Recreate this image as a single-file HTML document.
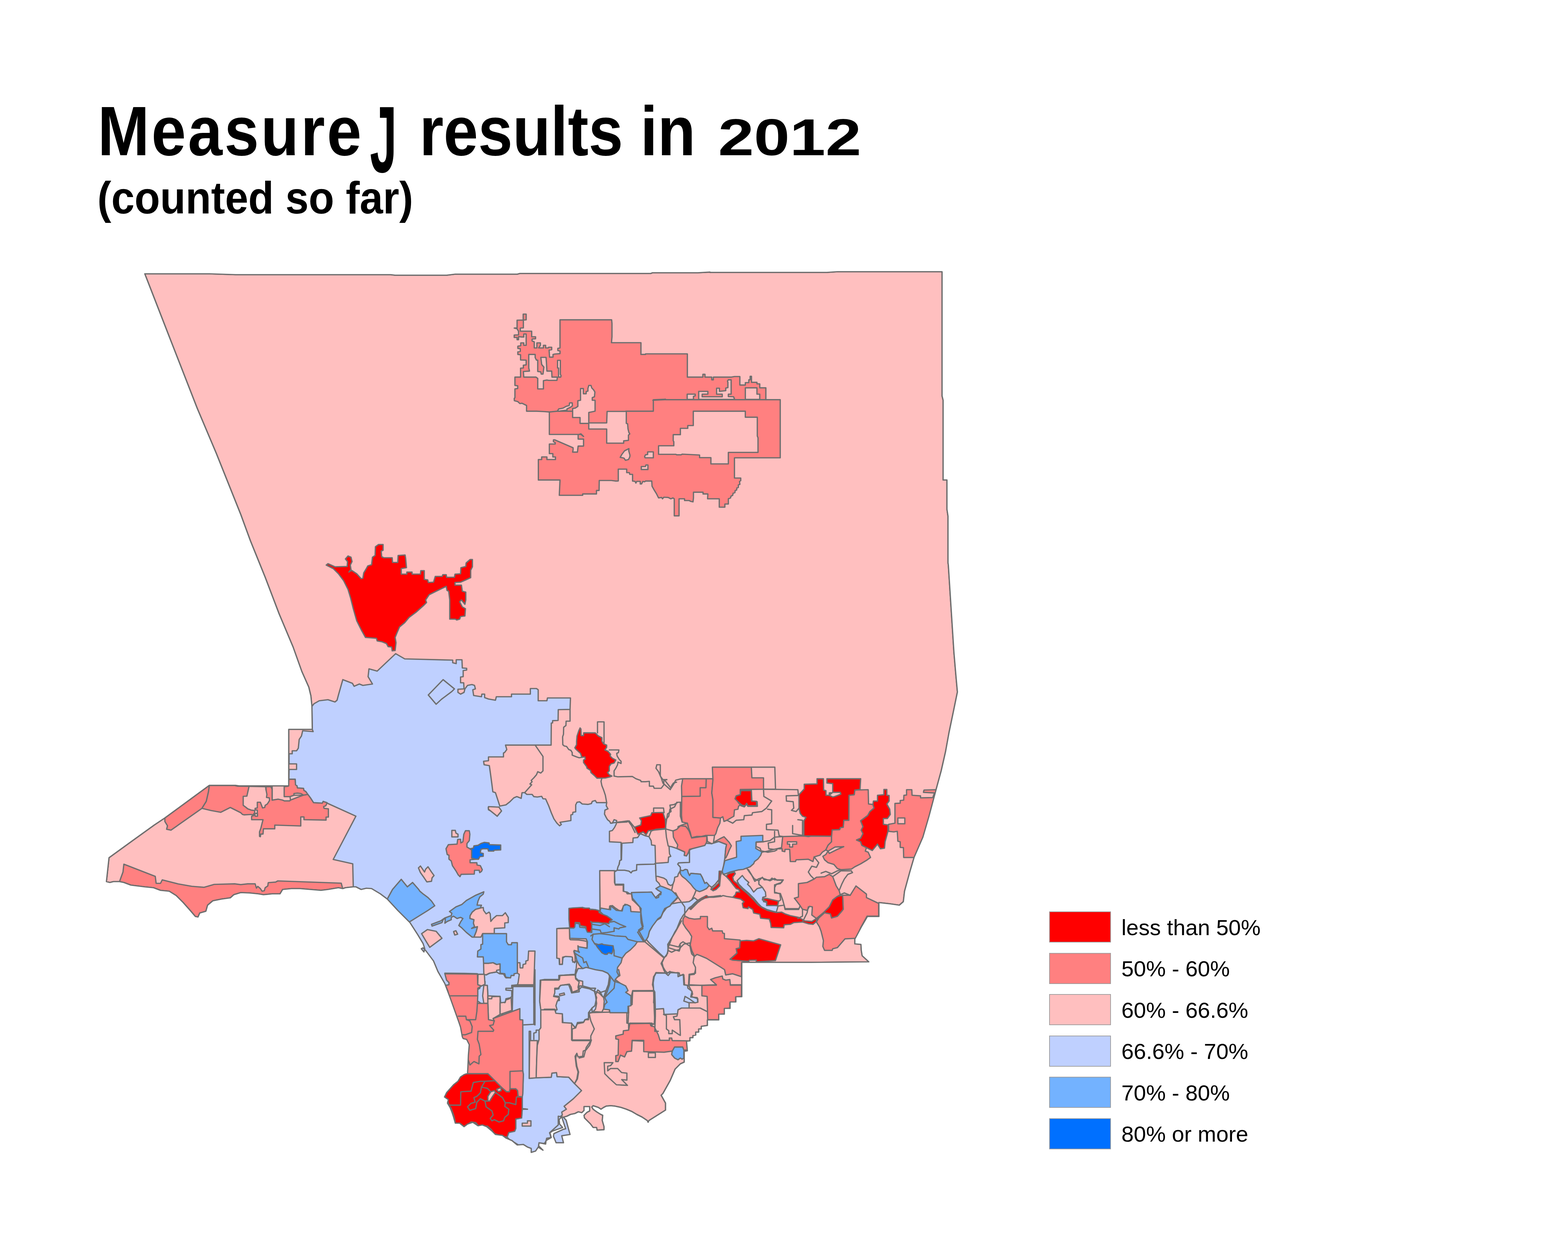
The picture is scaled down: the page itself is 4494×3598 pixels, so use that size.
<!DOCTYPE html>
<html lang="en">
<head>
<meta charset="utf-8">
<title>Measure J results in 2012</title>
<style>
html,body{margin:0;padding:0;background:#fff;}
body{width:4494px;height:3598px;position:relative;overflow:hidden;font-family:"Liberation Sans",sans-serif;color:#000;}
#map{position:absolute;left:0;top:0;width:4494px;height:3598px;}
#map polygon,#map polyline{stroke:#6e6e6e;stroke-width:3.7;stroke-linejoin:round;stroke-linecap:round;}
h1,h2{position:absolute;margin:0;white-space:nowrap;font-weight:bold;transform-origin:0 0;line-height:1;}
h1{left:280px;top:276.3px;font-size:200px;transform:scaleX(0.89);}
h1 .m{letter-spacing:6.3px;}
h1 .j{display:inline-block;transform:translateX(-29px) scale(0.78,1.352);transform-origin:60% 31.7px;margin:0 -22px 0 -20px;}
h1 .osf{display:inline-block;font-size:147.5px;transform:scaleX(1.405);transform-origin:0 100%;margin-left:17px;}
h2{left:279px;top:502px;font-size:130px;transform:scaleX(0.9214);}
.legend{position:absolute;left:3007px;top:2613px;margin:0;padding:0;list-style:none;}
.legend li{position:absolute;left:0;height:88px;white-space:nowrap;font-size:63.5px;line-height:88px;}
.legend .sw{position:absolute;left:0;top:0;width:173px;height:85px;border:2px solid #9c9c9c;}
.legend .lb{position:absolute;left:207px;top:1.5px;}
</style>
</head>
<body>
<svg id="map" viewBox="0 0 4494 3598" width="4494" height="3598">
<defs><clipPath id="cc"><polygon points="415,785 600,785 675,787.5 1120,787.5 1132.5,789 1280,789 1305,786 1482.5,786 1490,784 1865,784 1870,782 2000,782 2035,780 2035,781 2370,781 2400,779 2700,779 2700,1135 2703,1147.5 2703,1376 2714,1376 2714,1460 2717,1480 2717,1613 2718,1620 2725,1730 2734,1870 2740,1940 2744,1984 2732.5,2040 2720,2100 2710,2155 2697.5,2210 2682.5,2265 2662.5,2340 2645,2400 2620,2457.5 2607.5,2500 2592.5,2555 2589,2585 2577.5,2595 2550,2591 2519,2587.5 2519,2627.5 2486,2627.5 2470,2655 2450,2692.5 2450,2706 2467.5,2707.5 2468.5,2725 2471,2740 2490,2757.5 2325,2759 2126,2759 2126,2857.5 2109,2857.5 2109,2872.5 2092.5,2872.5 2092.5,2891 2076,2891 2076,2907.5 2060,2907.5 2060,2924 2027.5,2924 2027.5,2940 2010,2942.5 2010,2950 2002.5,2950 2002.5,2959 1994,2959 1994,2967.5 1986,2969 1986,2975 1977.5,2975 1977.5,2984 1967.5,2985 1970,3012.5 1961,3014 1961,3045 1950,3050 1935,3065 1921,3097.5 1900,3135 1895,3140 1907.5,3162.5 1907.5,3182.5 1860,3212.5 1857.5,3217.5 1855,3212.5 1840,3202.5 1825,3195 1810,3186.2 1795,3180 1780,3175 1762.5,3171.2 1750,3170 1737.5,3171.2 1730,3175 1722.5,3180 1715,3175 1700,3170 1696.2,3173.8 1700,3180 1710,3187.5 1720,3193.8 1727.5,3197.5 1726.2,3212.5 1731.2,3230 1731.2,3238.8 1711.2,3240 1710,3232.5 1700,3232.5 1692.5,3222.5 1685,3215 1675,3205 1673.8,3197.5 1682.5,3188.8 1690,3185 1690,3172.5 1673.8,3172.5 1673.8,3183.8 1667.5,3190 1657.5,3187.5 1647.5,3192.5 1635,3195 1625,3200 1615,3203 1622.5,3211.2 1633.8,3252.5 1610,3256.2 1615,3276.2 1593.8,3276.2 1586.2,3257.5 1587.5,3250 1615,3237.5 1621.2,3236.2 1612.5,3210 1610,3201.2 1602.5,3210 1603.8,3222.5 1612.5,3232.5 1583.8,3242.5 1576.2,3247.5 1580,3261.2 1565,3270 1563.8,3280 1545,3276.2 1543.8,3285 1556.2,3297.5 1542.5,3288.8 1535,3300 1522.5,3303.8 1522.5,3292.5 1512.5,3288.8 1500,3281.2 1482.5,3282.5 1467.5,3270 1450,3262.5 1440,3255 1420,3252.5 1410,3242.5 1395,3230 1382.5,3225 1370,3227.5 1355,3217.5 1340,3222.5 1330,3230 1317.5,3220 1305,3220 1300,3202.5 1295,3187.5 1290,3175 1282.5,3162.5 1285,3152.5 1274,3145 1280,3132.5 1300,3110 1312.5,3100 1320,3087.5 1330,3081 1340,3077.5 1341,3060 1342.5,3025 1345,2995 1337.5,2980 1327.5,2977.5 1325,2972.5 1320,2945 1315,2930 1290,2860 1275,2820 1255,2785 1242.5,2755 1220,2725 1212.5,2717.5 1207.5,2720 1215,2729 1217.5,2720 1212.5,2705 1197.5,2680 1175,2645 1140,2610 1110,2577.5 1090,2562.5 1065,2547.5 1050,2546.5 1035,2550 1020,2542.5 1012.5,2542.5 990,2545 982.5,2547.5 970,2545 940,2550 920,2552.5 890,2550 860,2547.5 835,2547.5 810,2550 802.5,2562.5 780,2562.5 755,2565 740,2562.5 715,2560 690,2559 670,2565 660,2574 635,2577.5 610,2582.5 595,2595 590,2612.5 572.5,2617.5 567.5,2629 560,2627.5 545,2610 525,2587.5 505,2567.5 485,2555 460,2552.5 440,2545 415,2542.5 395,2540 375,2537.5 355,2530 342.5,2527.5 325,2527.5 315,2530 305,2527.5 312.5,2459 380,2410 442.5,2365 472.5,2345 600,2251.5 675,2251.5 685,2253 827.5,2253 827.5,2091 895,2091 894,2025 891,1995 885,1970 865,1925 840,1855 800,1760 760,1655 717.5,1550 690,1475 620,1300 565,1170 485,965"/></clipPath></defs>
<g clip-path="url(#cc)">
<polygon fill="#FFBFBF" points="415,785 600,785 675,787.5 1120,787.5 1132.5,789 1280,789 1305,786 1482.5,786 1490,784 1865,784 1870,782 2000,782 2035,780 2035,781 2370,781 2400,779 2700,779 2700,1135 2703,1147.5 2703,1376 2714,1376 2714,1460 2717,1480 2717,1613 2718,1620 2725,1730 2734,1870 2740,1940 2744,1984 2732.5,2040 2720,2100 2710,2155 2697.5,2210 2682.5,2265 2662.5,2340 2645,2400 2620,2457.5 2607.5,2500 2592.5,2555 2589,2585 2577.5,2595 2550,2591 2519,2587.5 2519,2627.5 2486,2627.5 2470,2655 2450,2692.5 2450,2706 2467.5,2707.5 2468.5,2725 2471,2740 2490,2757.5 2325,2759 2126,2759 2126,2857.5 2109,2857.5 2109,2872.5 2092.5,2872.5 2092.5,2891 2076,2891 2076,2907.5 2060,2907.5 2060,2924 2027.5,2924 2027.5,2940 2010,2942.5 2010,2950 2002.5,2950 2002.5,2959 1994,2959 1994,2967.5 1986,2969 1986,2975 1977.5,2975 1977.5,2984 1967.5,2985 1970,3012.5 1961,3014 1961,3045 1950,3050 1935,3065 1921,3097.5 1900,3135 1895,3140 1907.5,3162.5 1907.5,3182.5 1860,3212.5 1857.5,3217.5 1855,3212.5 1840,3202.5 1825,3195 1810,3186.2 1795,3180 1780,3175 1762.5,3171.2 1750,3170 1737.5,3171.2 1730,3175 1722.5,3180 1715,3175 1700,3170 1696.2,3173.8 1700,3180 1710,3187.5 1720,3193.8 1727.5,3197.5 1726.2,3212.5 1731.2,3230 1731.2,3238.8 1711.2,3240 1710,3232.5 1700,3232.5 1692.5,3222.5 1685,3215 1675,3205 1673.8,3197.5 1682.5,3188.8 1690,3185 1690,3172.5 1673.8,3172.5 1673.8,3183.8 1667.5,3190 1657.5,3187.5 1647.5,3192.5 1635,3195 1625,3200 1615,3203 1622.5,3211.2 1633.8,3252.5 1610,3256.2 1615,3276.2 1593.8,3276.2 1586.2,3257.5 1587.5,3250 1615,3237.5 1621.2,3236.2 1612.5,3210 1610,3201.2 1602.5,3210 1603.8,3222.5 1612.5,3232.5 1583.8,3242.5 1576.2,3247.5 1580,3261.2 1565,3270 1563.8,3280 1545,3276.2 1543.8,3285 1556.2,3297.5 1542.5,3288.8 1535,3300 1522.5,3303.8 1522.5,3292.5 1512.5,3288.8 1500,3281.2 1482.5,3282.5 1467.5,3270 1450,3262.5 1440,3255 1420,3252.5 1410,3242.5 1395,3230 1382.5,3225 1370,3227.5 1355,3217.5 1340,3222.5 1330,3230 1317.5,3220 1305,3220 1300,3202.5 1295,3187.5 1290,3175 1282.5,3162.5 1285,3152.5 1274,3145 1280,3132.5 1300,3110 1312.5,3100 1320,3087.5 1330,3081 1340,3077.5 1341,3060 1342.5,3025 1345,2995 1337.5,2980 1327.5,2977.5 1325,2972.5 1320,2945 1315,2930 1290,2860 1275,2820 1255,2785 1242.5,2755 1220,2725 1212.5,2717.5 1207.5,2720 1215,2729 1217.5,2720 1212.5,2705 1197.5,2680 1175,2645 1140,2610 1110,2577.5 1090,2562.5 1065,2547.5 1050,2546.5 1035,2550 1020,2542.5 1012.5,2542.5 990,2545 982.5,2547.5 970,2545 940,2550 920,2552.5 890,2550 860,2547.5 835,2547.5 810,2550 802.5,2562.5 780,2562.5 755,2565 740,2562.5 715,2560 690,2559 670,2565 660,2574 635,2577.5 610,2582.5 595,2595 590,2612.5 572.5,2617.5 567.5,2629 560,2627.5 545,2610 525,2587.5 505,2567.5 485,2555 460,2552.5 440,2545 415,2542.5 395,2540 375,2537.5 355,2530 342.5,2527.5 325,2527.5 315,2530 305,2527.5 312.5,2459 380,2410 442.5,2365 472.5,2345 600,2251.5 675,2251.5 685,2253 827.5,2253 827.5,2091 895,2091 894,2025 891,1995 885,1970 865,1925 840,1855 800,1760 760,1655 717.5,1550 690,1475 620,1300 565,1170 485,965"/>
<polygon fill="#FF8080" points="1605,916.8 1753,916.8 1754,927.5 1754,965 1752.5,982.5 1837,982.5 1837,1016.2 1850,1016.2 1850,1014.5 1970,1014.5 1970,1081.2 1970,1081.2 2014.5,1081.2 2014.5,1073 2020.5,1073 2020.5,1081.2 2040,1081.2 2040,1088.8 2044.5,1088.8 2044.5,1081.2 2095,1081.2 2105,1079.5 2120.5,1079.5 2120.5,1103.8 2136.2,1103.8 2136.2,1097 2146.2,1097 2146.2,1088.8 2150,1088.8 2150,1078.8 2153.8,1078.8 2153.8,1096.2 2169.5,1096.2 2169.5,1100.5 2177.5,1100.5 2177.5,1111.8 2195,1111.8 2195,1145.8 2236.2,1145.8 2236.2,1312.5 2105,1312.5 2105,1370.5 2123,1370.5 2123,1378 2119.5,1380 2120.5,1388.8 2116.2,1390 2116.2,1397.5 2112,1398.8 2111.2,1405 2107,1406.2 2106.2,1412.5 2101.2,1413.8 2100,1420 2095,1422.5 2093.8,1427.5 2087.5,1430 2087.5,1445 2077.5,1445 2077.5,1454 2061.5,1454 2061.5,1430 2028,1430 2028.8,1416.2 2015,1416.2 2015,1411.2 1987.5,1411.2 1987.5,1427.5 1986.2,1438.8 1980,1437.5 1975,1435 1962,1435 1962,1430 1946.2,1430 1946.2,1478.8 1932.5,1478.8 1932.5,1430 1928.8,1427.5 1922.5,1430 1915,1426.2 1902.5,1425.5 1898.8,1430 1896.2,1426.2 1887.5,1427.5 1881.2,1415 1875,1405 1868.8,1393.8 1868,1379.2 1850,1379.2 1847.5,1381.2 1842.5,1380 1838.8,1387.5 1835,1387.5 1835,1380 1825,1380 1822.5,1385 1820,1380 1813,1379.2 1813,1360 1805,1360 1803.8,1355 1796.2,1355 1796.2,1345 1772,1345 1772,1378.8 1765,1379.2 1752.5,1377.5 1717.5,1377.5 1717,1406.2 1709.5,1406.2 1709.5,1416.2 1670,1416.2 1670,1420 1603,1420 1605,1376.2 1543,1376.2 1543,1317.5 1552.5,1317.5 1552.5,1310 1567.5,1310 1567.5,1317.5 1592,1317.5 1592,1310 1584.5,1310 1584.5,1300.5 1574.5,1300.5 1574.5,1273 1591.2,1273 1591.2,1268.8 1586.2,1266.2 1586.2,1261.2 1590.5,1261.2 1642.5,1283.8 1642.5,1290 1641.2,1296.2 1655,1296.2 1657,1278.8 1672.5,1278.8 1672.5,1258.8 1657,1258.8 1657,1246.2 1665,1243.8 1672.5,1251.2 1665,1245.5 1574.5,1245.5 1574.5,1181.2 1560,1180 1537.5,1178.8 1509.2,1178.8 1509.2,1162.5 1496.2,1156.2 1490,1157 1483.8,1151.2 1474.2,1148.8 1473.8,1142.5 1475.8,1140 1475.8,1115 1483.8,1113.8 1483.8,1106.2 1475.8,1105 1475.8,1081.2 1492,1081.2 1492,1055.5 1500,1055 1500,1047 1508,1046.2 1508,1032.5 1492,1032 1492,1017 1484.2,1016.2 1484.2,1008.8 1491.2,1007.5 1491.2,999.5 1484.2,998.8 1484.2,992.5 1492.5,991.2 1492.5,983 1501.2,983 1501.2,990 1508,990 1508,957.5 1501.2,957.5 1501.2,966.2 1495,966.2 1486.2,965 1486.2,973.8 1482,973.8 1482,967.5 1473.8,967.5 1473.8,960.5 1486.2,960 1486.2,950 1482,942.5 1473.8,940.5 1482,940 1482,918 1499.5,917.5 1499.5,900.5 1508,900.5 1508,917 1500,917.5 1500,940 1491.2,940.5 1491.2,949.5 1523.8,949.5 1523.8,965.5 1535,965.5 1535,971.2 1525,972 1525,977.5 1531.2,980 1531.2,997.5 1538.8,997.5 1538.8,983 1548.8,983 1548.8,990 1543.8,997.5 1557.5,997.5 1557.5,990 1563.8,990 1563.8,997.5 1571.2,997.5 1572.5,995.5 1581.2,995.5 1581.2,1002.5 1573.8,1003.8 1575,1023.8 1585,1023.8 1585,1016.2 1590,1015 1605,1013.8 1605,1006.2 1598.8,1005 1598.8,998.8 1605,997.5"/>
<polygon fill="#FFBFBF" points="1515.5,1016.2 1533.8,1016.2 1533.8,1025 1537.5,1032.5 1541.2,1032.5 1541.2,1065 1550,1066.2 1551.2,1072.5 1556.2,1072.5 1558.8,1052.5 1552.5,1045 1550,1024.5 1565,1024.5 1566.2,1040 1567.5,1063.8 1581.2,1063.8 1582,1081.2 1597.5,1081.2 1596.2,1090.5 1572.5,1090.5 1567.5,1089.5 1557.5,1091.2 1557.5,1115 1541.2,1115 1541.2,1085 1536.2,1081.2 1501.2,1081.2 1500,1065 1517.5,1063.8 1515.5,1055"/>
<polygon fill="#FFBFBF" points="1598,1033 1606,1033 1606,1072.5 1608,1077.5 1607,1081.2 1600.8,1081.2 1600.8,1055 1598,1055"/>
<polygon fill="#FFBFBF" points="1663.8,1113.8 1672,1113.8 1672,1128.8 1680,1128.8 1680,1122.5 1685,1121.2 1685,1113.8 1687.5,1105 1693.8,1105 1696.2,1112.5 1701.2,1117.5 1705,1123.8 1703.8,1137.5 1697.5,1140 1697.5,1147.5 1705.5,1147.5 1705.5,1178.8 1700,1180 1687.5,1182.5 1687.5,1213.8 1662.5,1213.8 1662.5,1197 1641.2,1197 1641.2,1171.2 1648.8,1170 1656.2,1165 1656.2,1148.8 1663.8,1147.5"/>
<polygon fill="#FFBFBF" points="1597.5,1178.8 1601.2,1172.5 1613.8,1170 1622.5,1165 1631.2,1162.5 1632.5,1155 1640,1155 1640.5,1163.8 1635,1167.5 1625,1172.5 1625,1176.2 1610,1177.5 1602.5,1178.8"/>
<polygon fill="#FFBFBF" points="1740,1179.5 1791.2,1179.5 1795,1178.8 1795,1213.8 1798.8,1215 1800,1230 1802.5,1240 1805,1243.8 1801.2,1247.5 1801.2,1262.5 1787.5,1263.8 1787.5,1270.5 1738.8,1270.5 1738.8,1230 1687.5,1230 1687.5,1212.5 1738.8,1212.5"/>
<polygon fill="#FFBFBF" points="1987,1178.8 2136.2,1178.8 2136.2,1196.2 2170.5,1196.2 2170.5,1250 2172.5,1255 2172.5,1297 2087.5,1297 2087.5,1330 2037.5,1330 2037.5,1312 2005,1312 2005,1304.5 1955,1302 1952.5,1303.8 1938.8,1303.8 1937.5,1302.5 1887.5,1302.5 1887.5,1278 1931.2,1278 1931.2,1266.2 1929.5,1263.8 1929.5,1246.2 1950,1246.2 1950,1228 1971.2,1228 1971.2,1220 1987,1220"/>
<polygon fill="#FFBFBF" points="1969.5,1130 1992.5,1130 1992.5,1135 1987.5,1136.2 1987.5,1145 1969.5,1145"/>
<polygon fill="#FFBFBF" points="2002.5,1122 2028.8,1122 2028.8,1130 2012.5,1130 2012.5,1137.5 2070,1137.5 2070,1130 2053.8,1130 2053.8,1113 2062,1113 2062,1122 2080,1120 2080,1112.5 2086.2,1111.2 2086.2,1096.2 2085,1092.5 2087.5,1088.8 2095.5,1088.8 2095.5,1130 2087.5,1130 2087.5,1137 2102.5,1137.5 2105.5,1145 2002.5,1145"/>
<polygon fill="#FFBFBF" points="2136.2,1111.8 2169.5,1111.8 2169.5,1130 2177.5,1130 2177.5,1145 2136.2,1145"/>
<polygon fill="#FFBFBF" points="1856.2,1295.5 1872.5,1295.5 1872.5,1312.5 1848.8,1312.5 1847.5,1308.8 1850,1303.8 1856.2,1303"/>
<polygon fill="#FFBFBF" points="1851.2,1333 1857,1333 1857,1346.2 1838,1346.2 1838,1337.5 1850,1337.5"/>
<polygon fill="#FFBFBF" points="1777.5,1311.2 1782.5,1302.5 1790,1292.5 1802.5,1286.2 1802,1292.5 1805.5,1305 1805,1310 1801.2,1317.5 1792.5,1319.5 1788.8,1313.8 1785,1312.5"/>
<polyline fill="none" points="1574.5,1181.2 1597.5,1178.8 1640,1178.8"/>
<polyline fill="none" points="1795,1178.8 1872.5,1178.8 1872.5,1146.2 1907.5,1144.5 1871.2,1147.5 1905,1145.8 2195,1145.8"/>
<polygon fill="#FF0000" points="935,1620 940,1616 960,1625 995,1624 996,1610 990,1602.5 997.5,1594 1006,1597.5 1009,1610 1004,1620 1006,1632.5 1000,1640 1007.5,1635 1022.5,1645 1035,1659 1040,1657.5 1042.5,1642.5 1050,1630 1054,1622.5 1065,1619 1067.5,1597.5 1075,1592.5 1076,1567.5 1085,1561 1098,1561 1098,1577.5 1092.5,1580 1094,1596 1100,1599 1124,1599 1125,1612.5 1140,1612.5 1141,1592.5 1161,1591 1162.5,1600 1165,1627.5 1150,1630 1150,1646 1166,1646 1166,1640 1181,1640 1181,1646 1205,1646 1206,1636 1216,1636 1216,1661 1226,1662.5 1227.5,1670 1242.5,1669 1247.5,1652.5 1267.5,1652.5 1269,1647.5 1279,1647.5 1280,1655 1302.5,1655 1304,1646 1320,1645 1321,1627.5 1335,1624 1336,1614 1347.5,1604 1354,1604 1354,1625 1349,1635 1349,1656 1335,1662.5 1320,1669 1304,1670 1304,1677.5 1322.5,1677.5 1325,1695 1335,1697.5 1335,1720 1332.5,1732.5 1322.5,1720 1317.5,1725 1325,1740 1334,1745 1332.5,1766 1320,1767.5 1317.5,1775 1309,1777.5 1305,1775 1289,1775 1289,1720 1286,1695 1281,1692.5 1279,1681 1250,1695 1230,1705 1220,1720 1222.5,1727.5 1215,1735 1192.5,1755 1172.5,1770 1160,1785 1145,1797.5 1137.5,1815 1132.5,1827.5 1135,1842.5 1132.5,1865 1124,1866 1122.5,1855 1112.5,1854 1107.5,1845 1095,1840 1081,1837.5 1079,1830 1047.5,1827.5 1035,1805 1022.5,1780 1012.5,1745 1005,1715 997.5,1690 985,1665 970,1645 955,1630"/>
<polygon fill="#FF8080" points="472.5,2345 600,2251.5 597.5,2270 591.2,2297.5 578.8,2317.5 490,2380 477.5,2377.5 480,2367.5 472.5,2355"/>
<polygon fill="#FF8080" points="600,2252 672.5,2252 680,2253.8 713.8,2254.5 707.5,2282.5 697,2283 697,2308.8 703.8,2313.8 710,2318.8 720,2322.5 730,2323.8 730,2330 725,2336.2 720,2335 700,2336.2 695,2335 690,2330 660,2315 632.5,2328.8 605,2323.8 578.8,2317.5 591.2,2297.5 597.5,2270"/>
<polygon fill="#FF8080" points="762.5,2255.5 776.2,2255.5 780,2262.5 780,2293.8 797.5,2291.2 810,2293.8 815,2296.2 830,2296.2 832.5,2293.8 855,2285 870,2279.5 882.5,2277.5 890,2287.5 898.8,2301.2 923.8,2302.5 926.2,2297.5 937.5,2301.2 933.8,2310 927.5,2312.5 928.8,2317.5 941.2,2318.8 941.2,2342.5 934.5,2342.5 934.5,2351.2 871.2,2350 871.2,2342 862,2342 862,2368 787.5,2365.5 787.5,2376.2 755,2376.2 753.8,2391.2 747.5,2391.2 746.2,2398.8 743.8,2397.5 743.8,2385 747.5,2375 751.2,2360 753.8,2350 721.2,2350 721.2,2340 726.2,2338.8 730,2332.5 731.2,2340 738,2340 738,2332.5 731.2,2332.5 737.5,2331.2 737.5,2322.5 731.2,2322 731.2,2317.5 737.5,2316.2 737.5,2300 746.2,2300 750,2310 752.5,2316.2 758.8,2315 760,2308.8 766.2,2305 772.5,2295 772,2287.5 763.8,2286.2 765,2277.5 762.5,2265"/>
<polygon fill="#FF8080" points="814.5,2255.5 826.2,2253.8 828,2233.8 846.2,2233.8 847,2250 851.2,2252.5 852.5,2258.8 870,2260 871.2,2266.2 876.2,2268.8 882.5,2277.5 870,2279.5 862.5,2275 852.5,2273.8 842.5,2275 842.5,2280 831.2,2283.8 814.5,2283.8"/>
<polyline fill="none" points="713.8,2254.5 761.2,2255.5 762.5,2265"/>
<polyline fill="none" points="780,2293.8 780,2255.5"/>
<polyline fill="none" points="831.2,2283.8 832.5,2293.8"/>
<polyline fill="none" points="842.5,2280 870,2279.5"/>
<polygon fill="#FF8080" points="982.5,2547.5 970,2545 940,2550 920,2552.5 890,2550 860,2547.5 835,2547.5 810,2550 802.5,2562.5 780,2562.5 755,2565 740,2562.5 715,2560 690,2559 670,2565 660,2574 635,2577.5 610,2582.5 595,2595 590,2612.5 572.5,2617.5 567.5,2629 560,2627.5 545,2610 525,2587.5 505,2567.5 485,2555 460,2552.5 440,2545 415,2542.5 395,2540 375,2537.5 355,2530 342.5,2527.5 352.5,2500 355,2477.5 445,2512.5 447.5,2532.5 460,2532.5 465,2522.5 510,2534 550,2541 585,2543.8 613.8,2535.5 672.5,2533.8 690,2536.2 710,2533.8 731.2,2533.8 735,2546.2 738.8,2541.2 746.2,2547.5 751.2,2555 757.5,2553.8 760,2545 767.5,2540 768.8,2530.5 790,2528.8 796.2,2525.5 978,2532 982.5,2548.8"/>
<polygon fill="#BFD0FF" points="895,2091 894,2025 900,2017.5 915,2009 940,2006 960,2012.5 966,2007.5 970,1992.5 982.5,1948.5 1010,1959 1015,1967.5 1030,1961 1040,1965 1067.5,1961 1055,1940 1057.5,1917.5 1081,1924 1134,1874 1160,1889 1297.5,1892.5 1297.5,1900 1307.5,1902.5 1307.5,1891.5 1324,1891.5 1325,1915 1337.5,1916 1337.5,1921 1327.5,1922.5 1327.5,1940 1320,1941 1320,1957.5 1329,1957.5 1330,1975 1312.5,1976 1312.5,1985 1320,1990 1330,1985 1332.5,1975 1340,1965 1352.5,1962.5 1360,1965 1362.5,1975 1355,1977.5 1357.5,1994 1380,1997.5 1381,1990 1389,1990 1389,2000 1400,2004 1420,2007.5 1422.5,1997.5 1466,1997.5 1466,1990 1520,1990 1520,1974 1537.5,1974 1542.5,1977.5 1542.5,2009 1567.5,2009 1569,2001 1635,2001 1633.8,2033.8 1600,2034.5 1599.5,2065.5 1583.8,2066.2 1583.8,2072.5 1580,2073 1579.5,2136.2 1448.8,2136.2 1452.5,2148.8 1446.2,2157.5 1443,2158.8 1443,2170 1400,2170 1400,2181 1386,2182.5 1387.5,2192.5 1402.5,2195 1406,2220 1410,2250 1412.5,2270 1420,2272.5 1432.5,2311 1450,2307.5 1461.2,2298.8 1472.5,2287.5 1481.2,2283.8 1493.8,2288.8 1496.2,2272.5 1503.8,2272.5 1510,2277.5 1525,2277.5 1530,2283.8 1540,2285 1552.5,2283 1556.2,2290 1563.8,2290.5 1572.5,2310 1580,2330 1587.5,2347.5 1596.2,2360 1603.8,2367.5 1608.8,2363.8 1605,2357.5 1636.2,2352.5 1636.2,2336.2 1641.2,2335 1642,2328.8 1650,2327.5 1650,2307.5 1653.8,2300 1661.2,2298.8 1668.8,2305 1685,2306.2 1695,2303.8 1697.5,2297.5 1706.2,2295 1710,2301.2 1736.2,2301.2 1738.8,2301.2 1737.5,2310 1742.5,2318.8 1733.8,2322.5 1732.5,2333.8 1737.5,2343.8 1741.2,2350 1747.5,2355 1750,2360 1755,2360 1760,2350 1767.5,2352.5 1766.2,2362.5 1761.2,2372.5 1755,2381 1746.7,2383.3 1746.7,2413.3 1780,2415 1780,2466.7 1775,2473.3 1773.3,2486.7 1769.3,2496.7 1719.3,2496.7 1719.3,2606.7 1720,2613.3 1706.7,2608.3 1690,2606.7 1670,2601.7 1631.7,2605 1633.3,2626.7 1635,2660 1600,2661.7 1598.3,2693.3 1596.7,2723.3 1601.7,2726.7 1603.3,2765 1611.7,2765 1613.3,2746.7 1623.3,2738.3 1641.7,2740 1640,2753.3 1646.7,2760 1653.3,2753.3 1650,2793.3 1605,2796.7 1603.3,2808.3 1560,2808.3 1548.3,2810 1546.7,2870 1550,2893.3 1550,2946.7 1545,2953.3 1545,2980 1540,2996.7 1538.3,3033.3 1536.7,3090 1580,3088.3 1581.7,3076.7 1595,3075 1596.7,3086.7 1630,3088.3 1646.7,3106.7 1666.7,3126.7 1643.3,3150 1616.7,3171.7 1623.3,3180 1610,3188.3 1611.7,3196.7 1603.3,3203.3 1605,3210 1613.3,3231.7 1578.3,3246.7 1578.3,3261.7 1566.7,3263.3 1565,3271.7 1560,3278.3 1545,3276.7 1543.3,3286.7 1550,3290 1555,3296.7 1545,3293.3 1541.7,3301.7 1533.3,3310 1525,3311.7 1523.3,3303.3 1516.7,3298.3 1503.3,3291.7 1490,3285 1476.7,3276.7 1463.3,3270 1453.3,3260 1458.3,3246.7 1475,3243.3 1478.3,3235 1478.3,3208.3 1495,3205 1496.7,3180 1511.7,3180 1496.7,3178.3 1496.7,3145 1498.3,3136.7 1500,3080 1498.3,3070 1498.3,2938.3 1383.3,2880 1316.7,2833.3 1233.3,2833.3 1200,2746.7 1163.3,2683.3 1080,2583.3 1100,2650 1050,2600 1012.5,2600 1012.5,2542.5 1011,2476.5 955,2464 1020,2340 937.5,2302.5 937.5,2301.2 926.2,2297.5 923.8,2302.5 898.8,2301.2 890,2287.5 882.5,2277.5 876.2,2268.8 871.2,2266.2 870,2260 852.5,2258.8 851.2,2252.5 847,2250 846.2,2233.8 828,2233.8 828.5,2206 850,2206 850,2190 828.5,2190 828.5,2161 837.5,2161 837.5,2152.5 850,2152.5 855,2145 857.5,2120 864,2110 867.5,2095 897.5,2097.5"/>
<polygon fill="#BFD0FF" points="1600,3200 1615,3203 1622.5,3211.2 1635,3253.8 1615,3277.5 1585,3277.5 1575,3247.5 1600,3225"/>
<polygon fill="#BFD0FF" points="1880,2791.7 1913.3,2790 1920,2785 1926.7,2790 1943.3,2788.3 1946.7,2800 1958.3,2800 1960,2820 1966.7,2830 1980,2850 1986.7,2863.3 1993.3,2874.7 1873.3,2874.7 1875,2840 1870,2823.3 1873.3,2800"/>
<polygon fill="#BFD0FF" points="1880,2788.3 1906.7,2789.3 1915,2796.7 1921.7,2788.3 1946.7,2789.3 1948.3,2796.7 1960,2795 1961.7,2823.3 1970,2825 1971.7,2833.3 1983.3,2841.7 1985,2850 1980,2858.3 1998.3,2860 2000,2873.3 1991.7,2875 1975,2863.3 1963.3,2856.7 1960,2870 1975,2875 1975,2890 1953.3,2890 1943.3,2895 1941.7,2906.7 1903.3,2908.3 1901.7,2891.7 1878.3,2893.3 1876.7,2843.3 1873.3,2841.7 1871.7,2810 1875,2798.3"/>
<polygon fill="#BFD0FF" points="1650,2793.3 1656.7,2776.7 1670,2776.7 1680,2773.3 1706.7,2780 1726.7,2783.3 1741.7,2790 1750,2800 1746.7,2823.3 1740,2843.3 1733.3,2860 1726.7,2856.7 1720,2843.3 1713.3,2838.3 1706.7,2853.3 1703.3,2840 1706.7,2833.3 1693.3,2833.3 1670,2826.7 1670,2813.3 1656.7,2810 1650,2803.3"/>
<polygon fill="#BFD0FF" points="1588.3,2836.7 1601.7,2835 1603.3,2823.3 1630,2823.3 1635,2836.7 1638.3,2846.7 1660,2843.3 1660,2826.7 1670,2826.7 1693.3,2833.3 1706.7,2833.3 1703.3,2840 1706.7,2853.3 1710,2876.7 1706.7,2893.3 1696.7,2903.3 1688.3,2905 1686.7,2920 1676.7,2923.3 1673.3,2930 1655,2931.7 1650,2946.7 1640,2936.7 1613.3,2931.7 1611.7,2906.7 1590,2906.7 1593.3,2896.7 1590,2883.3 1593.3,2870 1603.3,2868.3 1601.7,2856.7 1586.7,2855"/>
<polygon fill="#BFD0FF" points="1782.5,2417.5 1813.8,2415.5 1814.5,2402.5 1827.5,2401.2 1835,2390 1850,2396.2 1860,2398.8 1866.2,2410 1867.5,2422.5 1877.5,2423.8 1878.8,2475 1875,2477.5 1825,2478.8 1824.5,2495 1812.5,2497.5 1808.8,2502.5 1802.5,2497.5 1790,2495 1768.8,2495 1771.2,2485 1775,2477.5 1776.2,2467.5 1781.2,2465"/>
<polygon fill="#BFD0FF" points="1768.8,2495 1790,2495 1802.5,2497.5 1808.8,2502.5 1812.5,2497.5 1824.5,2495 1825,2478.8 1875,2477.5 1878.8,2475 1880,2512.5 1881.2,2525 1888.8,2532.5 1892.5,2540 1880,2547.5 1886.2,2552.5 1895,2557.5 1893.8,2565 1888.8,2565 1887.5,2572.5 1880,2575 1872.5,2565 1867.5,2557.5 1810,2558.8 1808.8,2565 1797.5,2557.5 1787.5,2556.2 1787.5,2535 1762.5,2535 1761.2,2500"/>
<polygon fill="#BFD0FF" points="1917.5,2426.2 1925,2427.5 1940,2432.5 1962.5,2442.5 1961.2,2452.5 1967.5,2453.8 1972.5,2445 1976.2,2446.2 1976.2,2472.5 1945,2473.8 1942.5,2477.5 1950,2486.2 1950,2495 1947.5,2500 1943.8,2506.2 1942.5,2512.5 1933.8,2515 1932.5,2525 1928.8,2535 1922.5,2538.8 1915,2535 1910,2522.5 1902.5,2517.5 1893.8,2515 1885,2512.5 1880,2512.5 1878.8,2475 1897.5,2473.8 1915,2472.5 1916.2,2457.5 1922.5,2455 1918.8,2447.5"/>
<polygon fill="#BFD0FF" points="1976.2,2435 2020,2423.8 2021.2,2417.5 2040,2418.8 2060,2412.5 2082.5,2421.2 2080,2432.5 2077.5,2460 2073.8,2482.5 2070,2497.5 2065,2510 2060,2522.5 2050,2535 2040,2543.8 2032.5,2538.8 2025,2530 2020,2532.5 2012.5,2515 2007.5,2506.2 1980,2503.8 1976.2,2510 1972.5,2502.5 1970,2493.8 1963.8,2492.5 1957.5,2496.2 1950,2495 1950,2486.2 1942.5,2477.5 1945,2473.8 1976.2,2472.5"/>
<polygon fill="#BFD0FF" points="1990,2573.8 2000,2581.2 1990,2590 1982.5,2597.5 1975,2602.5 1967.5,2612.5 1957.5,2625 1950,2637.5 1945,2650 1940,2662.5 1933.8,2672.5 1927.5,2685 1920,2697.5 1913.8,2707.5 1915,2725 1910,2740 1903.8,2745 1890,2732.5 1875,2717.5 1860,2702.5 1852.5,2693.8 1857.5,2685 1861.2,2670 1870,2655 1877.5,2645 1885,2635 1895,2627.5 1900,2615 1905,2605 1920,2597.5 1925,2591.2 1945,2587.5 1965,2586.2 1975,2585 1982.5,2580"/>
<polygon fill="#BFD0FF" points="2112.5,2525 2127.5,2510 2135,2520 2146.2,2530 2142.5,2535 2150,2542.5 2160,2557.5 2170,2547.5 2185,2543.8 2193.8,2557.5 2195,2570 2186.2,2572.5 2185,2580 2197.5,2585 2197.5,2596.2 2207.5,2596.2 2210,2592.5 2230,2597.5 2225,2615 2215,2612.5 2197.5,2607.5 2182.5,2600 2172.5,2590 2160,2575 2147.5,2562.5 2130,2547.5 2117.5,2535"/>
<polygon fill="#FFBFBF" points="1718.8,2496.2 1761.2,2496.2 1761.2,2530 1763.8,2537.5 1786.2,2537.5 1786.2,2555 1795,2557.5 1797.5,2562.5 1812.5,2562.5 1810,2565 1812.5,2580 1825,2590 1836.2,2600 1842.5,2606.2 1837.5,2616.2 1803.8,2613.8 1802.5,2596.2 1791.2,2592.5 1786.2,2600 1781.2,2611.2 1773.8,2610 1762.5,2602.5 1755,2596.2 1747.5,2597.5 1746.2,2607.5 1720,2605"/>
<polygon fill="#FFBFBF" points="1295,2380.7 1305,2380.7 1306.7,2388.3 1312.7,2391.7 1312.7,2399.3 1295,2399.3"/>
<polygon fill="#FFBFBF" points="1199.3,2488.3 1205,2482.7 1210,2490 1216.7,2500 1220,2491.7 1226.7,2485 1236.7,2500 1244,2510 1238.3,2516.7 1236.7,2526.7 1223.3,2528.3 1213.3,2513.3 1205,2501.7"/>
<polygon fill="#FFBFBF" points="1399.3,2315 1406.7,2313.3 1430,2314 1435,2325 1425,2340 1413.3,2328.3 1400,2321.7"/>
<polygon fill="#FFBFBF" points="1208.3,2676.7 1225,2665 1250,2670 1266.7,2690 1231.7,2716 1220,2696.7"/>
<polygon fill="#FFBFBF" points="1300,2670.7 1306.7,2668.3 1311.7,2678.3 1303.3,2680.7"/>
<polygon fill="#FFBFBF" points="1346.7,2633.3 1347.3,2625 1353.3,2615 1363.3,2606.7 1376.7,2603.3 1385,2601.7 1386,2610 1393.3,2620 1401.7,2615 1405,2620 1406.7,2641.7 1413.3,2633.3 1423.3,2625 1440,2625 1448.3,2616.7 1456.7,2630 1456.7,2645 1446.7,2646 1446.7,2660 1416.7,2661.7 1416.7,2676.7 1383.3,2676.7 1378.3,2686.7 1358.3,2686.7 1365,2670 1368.3,2656.7 1351.7,2661.7 1360,2656.7 1356.7,2646.7 1358.3,2636.7"/>
<polygon fill="#FFBFBF" points="1386,2761.7 1400,2761.7 1413.3,2760 1423.3,2765 1433.3,2763.3 1433.3,2780 1423.3,2781.7 1423.3,2786.7 1403.3,2790 1393.3,2795 1386.7,2793.3"/>
<polygon fill="#FFBFBF" points="1515,2726.7 1533.3,2726.7 1530,2823.3 1483.3,2823.3 1485,2816.7 1488.3,2793.3 1482.7,2790 1483.3,2760 1490,2760 1490.7,2775 1498.3,2775 1499.3,2765 1506.7,2763.3 1507.3,2755 1513.3,2753.3"/>
<polygon fill="#FFBFBF" points="1369.3,2793.3 1386,2793.3 1386.7,2811.7 1390,2813.3 1390,2821.7 1376.7,2821.7 1369.3,2825"/>
<polygon fill="#FFBFBF" points="1386.7,2825 1396.7,2825 1398.3,2850 1395,2860 1386.7,2860 1386,2836.7"/>
<polygon fill="#FFBFBF" points="1370,2793.3 1388.3,2793.3 1389.3,2811.7 1390,2821.7 1380,2826.7 1369.3,2823.3"/>
<polygon fill="#FFBFBF" points="1386.7,2825 1396.7,2825 1398.3,2855 1398.3,2876.7 1386.7,2876.7 1383.3,2855"/>
<polygon fill="#FFBFBF" points="1398.3,2855 1433.3,2856.7 1433.3,2908.3 1413.3,2920 1416.7,2926.7 1400,2923.3 1398.3,2876.7"/>
<polygon fill="#FFBFBF" points="1433.3,2875 1448.3,2873.3 1450,2863.3 1465,2860 1466.7,2896.7 1433.3,2908.3"/>
<polygon fill="#FFBFBF" points="1518.3,2983.3 1540,2983.3 1538.3,3033.3 1536.7,3090 1516.7,3091.7"/>
<polygon fill="#FFBFBF" points="1496.7,3220 1511.7,3220 1511.7,3213.3 1521.7,3213.3 1521.7,3228.3 1496.7,3228.3"/>
<polygon fill="#FFBFBF" points="1550,2895 1590,2895 1593.3,2905 1611.7,2906.7 1611.7,2931.7 1638.3,2933.3 1638.3,2981.7 1695,2981.7 1690,2996.7 1680,3010 1671.7,3013.3 1670,3028.3 1656.7,3030 1653.3,3020 1648.3,3028.3 1651.7,3056.7 1656.7,3073.3 1653.3,3093.3 1646.7,3106.7 1630,3088.3 1596.7,3086.7 1595,3075 1581.7,3076.7 1580,3088.3 1536.7,3090 1538.3,3033.3 1540,2996.7 1545,2980 1545,2953.3 1550,2946.7"/>
<polygon fill="#FFBFBF" points="1550,2810 1601.7,2810 1601.7,2796.7 1648.3,2795 1650,2806.7 1660,2815 1656.7,2830 1658.3,2838.3 1640,2845 1636.7,2830 1631.7,2821.7 1606.7,2825 1600,2833.3 1590,2833.3 1590,2846.7 1586.7,2856.7 1603.3,2860 1596.7,2871.7 1593.3,2883.3 1596.7,2895 1590,2895 1550,2895 1546.7,2870"/>
<polygon fill="#FFBFBF" points="1603.3,2850 1616.7,2846.7 1618.3,2851.7 1605,2855"/>
<polygon fill="#73B2FF" points="1110,2577.5 1125,2550 1150,2521 1167.5,2542.5 1182.5,2530 1200,2550 1203.3,2555 1213.3,2563.3 1226.7,2573.3 1236.7,2583.3 1246,2596.7 1226.7,2610 1173.3,2643.3 1172.5,2642.5 1125,2640 1090,2590"/>
<polygon fill="#73B2FF" points="1288.3,2613.3 1306.7,2600 1323.3,2593.3 1336.7,2581.7 1363.3,2566.7 1386.7,2556.7 1385,2563.3 1375,2571.7 1370,2583.3 1367.3,2595 1380,2595 1376.7,2603.3 1363.3,2606.7 1353.3,2615 1347.3,2625 1346.7,2633.3 1358.3,2636.7 1356.7,2646.7 1360,2656.7 1351.7,2661.7 1368.3,2656.7 1365,2670 1358.3,2686.7 1353.3,2686.7 1336.7,2673.3 1330,2666.7 1323.3,2660 1315,2653.3 1320,2643.3 1326.7,2633.3 1320,2630 1310,2633.3 1300,2626.7 1293.3,2630 1293.3,2636.7 1281.7,2641.7 1275,2646.7 1276.7,2631.7 1270,2636.7 1266.7,2645 1261.7,2646.7 1238.3,2655 1236.7,2650 1263.3,2640 1275,2631.7 1293.3,2625 1295,2618.3"/>
<polygon fill="#73B2FF" points="1383.3,2676.7 1451.7,2676.7 1451.7,2700 1456.7,2708.3 1466,2708.3 1466.7,2702.7 1482.7,2702.7 1482.7,2790 1473.3,2791.7 1473.3,2796.7 1465,2796.7 1463.3,2803.3 1450,2803.3 1446.7,2791.7 1433.3,2790 1433.3,2763.3 1423.3,2765 1413.3,2760 1400,2761.7 1386,2761.7 1385,2743.3 1368.3,2743.3 1369.3,2726.7 1378.3,2720.7 1378.3,2708.3 1383.3,2706.7"/>
<polygon fill="#73B2FF" points="1743.3,2780 1773.3,2780 1776.7,2796.7 1766.7,2803.3 1756.7,2810 1763.3,2816.7 1780,2833.3 1783.3,2826.7 1796.7,2833.3 1790,2843.3 1811.7,2856.7 1811.7,2880 1801.7,2883.3 1801.7,2901.7 1746.7,2901.7 1746.7,2893.3 1730,2891.7 1731.7,2870 1730,2860 1736.7,2840 1743.3,2823.3 1746.7,2800"/>
<polygon fill="#73B2FF" points="1933.3,3001.7 1956.7,3001.7 1960,3010.7 1960,3033.3 1955,3036.7 1950,3033.3 1943.3,3038.3 1933.3,3033.3 1925,3023.3 1926.7,3013.3"/>
<polygon fill="#73B2FF" points="1631.7,2660 1643.3,2660 1650,2646.7 1660,2648.3 1661.7,2658.3 1678.3,2660 1683.3,2670 1693.3,2671.7 1693.3,2641.7 1740,2643.3 1750,2643.3 1741.7,2635 1720,2613.3 1721.7,2603.3 1750,2608.3 1750,2596.7 1766.7,2610 1783.3,2611.7 1786.7,2596.7 1796.7,2593.3 1806.7,2598.3 1808.3,2613.3 1836.7,2615 1833.3,2600 1823.3,2590 1813.3,2580 1813.3,2565 1860,2563.3 1876.7,2575 1893.3,2560 1936.7,2560 1943.3,2573.3 1933.3,2583.3 1923.3,2593.3 1910,2603.3 1900,2616.7 1893.3,2631.7 1880,2640 1866.7,2656.7 1860,2673.3 1856.7,2686.7 1848.3,2700 1826.7,2700 1820,2710 1806.7,2723.3 1793.3,2733.3 1783.3,2746.7 1780,2760 1770,2773.3 1768.3,2786.7 1773.3,2796.7 1763.3,2808.3 1776.7,2818.3 1793.3,2826.7 1800,2840 1793.3,2845 1808.3,2855 1808.3,2883.3 1800,2885 1800,2903.3 1748.3,2903.3 1746.7,2895 1730,2893.3 1733.3,2880 1740,2873.3 1733.3,2860 1740,2843.3 1746.7,2823.3 1750,2800 1741.7,2790 1726.7,2783.3 1706.7,2780 1680,2773.3 1670,2776.7 1660,2766.7 1653.3,2753.3 1648.3,2733.3 1643.3,2725 1656.7,2726.7 1656.7,2713.3 1682.7,2718.7 1683.7,2700 1680,2691.7 1633.3,2690"/>
<polygon fill="#73B2FF" points="2110,2412.5 2123.8,2410 2123.8,2397.5 2186.2,2395 2186.2,2412.5 2167.5,2413.8 2166.2,2432.5 2172.5,2436.2 2183.8,2442.5 2180,2452.5 2172.5,2462.5 2162.5,2470 2160,2476.2 2150,2485 2140,2488.8 2130,2492.5 2117.5,2493.8 2107.5,2496.2 2092.5,2500 2080,2505 2072.5,2506.2 2070,2497.5 2073.8,2482.5 2077.5,2467.5 2090,2463.8 2111.2,2457.5"/>
<polygon fill="#73B2FF" points="1950,2495 1957.5,2496.2 1963.8,2492.5 1970,2493.8 1972.5,2502.5 1976.2,2510 1980,2503.8 2007.5,2506.2 2012.5,2515 2020,2532.5 2025,2530 2032.5,2538.8 2025,2547.5 2015,2552.5 2005,2556.2 1995,2552.5 1987.5,2545 1980,2535 1972.5,2527.5 1965,2520 1955,2512.5 1950,2505"/>
<polygon fill="#73B2FF" points="1810,2558.8 1867.5,2557.5 1872.5,2565 1880,2575 1887.5,2572.5 1888.8,2565 1893.8,2565 1895,2557.5 1886.2,2552.5 1880,2547.5 1892.5,2540 1900,2542.5 1912.5,2547.5 1925,2552.5 1935,2562.5 1942.5,2571.2 1935,2580 1925,2590 1920,2597.5 1905,2605 1900,2615 1895,2627.5 1885,2635 1877.5,2645 1870,2655 1861.2,2670 1857.5,2685 1852.5,2693.8 1845,2700 1827.5,2672.5 1842.5,2662.5 1837.5,2645 1836.2,2625 1837.5,2605 1812.5,2575"/>
<polygon fill="#FF8080" points="1285,2421.7 1310,2420 1311.7,2406.7 1320,2406 1320.7,2416.7 1326.7,2413.3 1329.3,2391.7 1334,2381.7 1345,2381.7 1346.7,2391.7 1345,2410 1338.3,2418.3 1338.3,2428.3 1346.7,2433.3 1351.7,2436.7 1351.7,2460 1363.3,2463.3 1347.3,2465 1347.3,2473.3 1366.7,2473.3 1367.3,2480 1376.7,2481.7 1382.3,2493.3 1380,2498.3 1375,2501.7 1373.3,2495 1360,2495 1359.3,2506 1321.7,2506.7 1318.3,2513.3 1313.3,2508.3 1306.7,2496.7 1296.7,2481.7 1293.3,2468.3 1286.7,2463.3 1286.7,2451.7 1281.7,2450 1278.3,2433.3"/>
<polygon fill="#FF8080" points="1275,2790 1331.7,2790.7 1368.3,2791.7 1369.3,2825 1376.7,2826.7 1375,2833.3 1369.3,2836.7 1369.3,2856 1286.7,2855 1283.3,2840 1276.7,2825 1286.7,2823.3 1286.7,2816.7 1280,2810"/>
<polygon fill="#FF8080" points="2243.3,2398.3 2304,2396.7 2316.7,2398.3 2326.7,2396.7 2383.3,2397.3 2383.3,2413.3 2373.3,2423.3 2366.7,2436.7 2356.7,2443.3 2350,2451.7 2333.3,2456.7 2330,2470 2316.7,2463.3 2281.7,2465 2280,2470 2265,2470 2263.3,2435 2250,2435 2249.3,2441.7 2241.7,2440 2241.7,2433.3 2226.7,2433.3 2240,2430 2241.7,2413.3"/>
<polygon fill="#FF8080" points="2433.3,2280 2448.3,2278.3 2450,2265 2488.3,2264 2489.3,2305 2505,2306.7 2505,2316.7 2493.3,2326.7 2486.7,2338.3 2466.7,2353.3 2473.3,2370 2468.3,2380 2473.3,2390 2466.7,2403.3 2455,2408.3 2466.7,2413.3 2470,2423.3 2483.3,2430 2480,2440 2488.3,2443.3 2495,2458.3 2483.3,2466.7 2466.7,2476.7 2450,2485 2440,2491.7 2410,2493.3 2400,2490 2390,2478.3 2373.3,2473.3 2363.3,2465 2358.3,2455 2366.7,2450 2373.3,2440 2366.7,2436.7 2373.3,2423.3 2383.3,2413.3 2383.3,2397.3 2383.3,2379.3 2406.7,2378.3 2408.3,2372.7 2416.7,2371.7 2418.3,2351.7 2432.7,2351.7"/>
<polygon fill="#FF8080" points="2565,2360 2565,2303.3 2580,2302.7 2580,2295 2590,2294 2590.7,2280 2598.3,2279.3 2598.3,2264 2613.3,2264 2614,2280 2638.3,2281.7 2638.3,2287.3 2673.3,2286.7 2678.3,2273.3 2646.7,2271.7 2648.3,2265 2683.3,2264 2678.3,2283.3 2666.7,2336.7 2650,2390 2633.3,2440 2625,2458.3 2590,2458.3 2589.3,2430 2580,2429.3 2580,2413.3 2573.3,2411.7 2571.7,2383.3 2561.7,2385 2546.7,2383.3 2546.7,2363.3"/>
<polygon fill="#FF8080" points="2288.3,2533.3 2313.3,2530 2333.3,2520 2340,2515 2363.3,2513.3 2376.7,2506.7 2386.7,2513.3 2396.7,2540 2405,2553.3 2408.3,2565 2400,2570 2386.7,2580 2376.7,2600 2360,2616.7 2340,2633.3 2326.7,2623.3 2328.3,2600 2320,2598.3 2313.3,2610 2300,2606.7 2293.3,2596.7 2283.3,2583.3 2276.7,2575 2288.3,2571.7"/>
<polygon fill="#FF8080" points="2415,2566.7 2436.7,2566.7 2453.3,2540 2483.3,2563.3 2483.3,2573.3 2518.3,2590 2518.3,2626.7 2485,2626.7 2466.7,2660 2453.3,2690 2421.7,2691.7 2400,2716.7 2386.7,2720 2385,2724.7 2363.3,2724.7 2358.3,2713.3 2360,2696.7 2353.3,2670 2348.3,2656.7 2340,2643.3 2346.7,2631.7 2363.3,2616.7 2380,2620 2383.3,2631.7 2400,2626.7 2411.7,2613.3 2416.7,2606.7"/>
<polygon fill="#FF8080" points="1956.7,2232.7 2041.7,2232.7 2043.3,2235 2040,2273.3 2043.3,2293.3 2043.3,2343.3 2065,2345 2063.3,2360 2056.7,2373.3 2051.7,2390 2048.3,2395 2026.7,2395 2010,2398.3 1996.7,2398.3 1981.7,2401.7 1978.3,2386.7 1973.3,2373.3 1970,2360 1955,2356.7 1953.3,2336.7 1954,2283.3 1953.3,2253.3"/>
<polygon fill="#FF8080" points="2041.7,2199.3 2153.3,2199.3 2155,2230 2188.3,2230 2188.3,2262.7 2121.7,2263.3 2121.7,2278.3 2110,2281.7 2106.7,2290 2116.7,2300 2126.7,2303.3 2116.7,2311.7 2115,2320 2105,2321.7 2103.3,2340 2083.3,2351.7 2075,2355 2071.7,2341.7 2065,2345 2043.3,2343.3 2043.3,2293.3 2040,2273.3 2043.3,2235"/>
<polygon fill="#FF8080" points="1930,2381.7 1943.3,2380 1943.3,2370 1955,2365 1970,2360 1973.3,2373.3 1978.3,2386.7 1981.7,2401.7 1996.7,2398.3 2010,2398.3 2023.3,2395 2026.7,2413.3 2013.3,2425 1983.3,2433.3 1980,2435 1970,2440 1950,2428.3 1943.3,2416.7 1936.7,2401.7"/>
<polygon fill="#FF8080" points="1275,2791.7 1368.3,2792.7 1369.3,2823.3 1380,2826.7 1369.3,2833.3 1369.3,2855 1368.3,2876.7 1398.3,2876.7 1400,2923.3 1416.7,2926.7 1413.3,2920 1490,2891.7 1490,2923.3 1498.3,2924 1498.3,3070 1500,3080 1498.3,3136.7 1496.7,3145 1485,3143.3 1483.3,3126.7 1478.3,3121.7 1461.7,3121.7 1460,3130 1451.7,3130 1440,3120 1416.7,3096.7 1398.3,3078.3 1336.7,3078.3 1316.7,3063.3 1316.7,2996.7 1300,2966.7 1283.3,2913.3 1270,2866.7 1286.7,2855 1283.3,2840 1276.7,2825 1286.7,2823.3 1286.7,2816.7 1280,2810"/>
<polygon fill="#FF8080" points="1801.7,2935 1868.7,2933.3 1868.7,3016.7 1846.7,3015 1845,2985 1811.7,2983.3 1810,3013.3 1796.7,3015 1790,3030 1776.7,3023.3 1770,3043.3 1765,3026.7 1773.3,3025 1773.3,2980 1765,2978.3 1765,2970 1786.7,2965 1786.7,2956.7 1801.7,2955"/>
<polygon fill="#FF8080" points="1805,2935 1865,2934 1866.7,2941.7 1875,2943.3 1881.7,2956.7 1886.7,2966.7 1891.7,2982.7 1918.3,2982.7 1918.3,2976 1925,2976 1926.7,2983.3 1970,2984 1970,3010 1960,3010.7 1956.7,3001.7 1933.3,3001.7 1926.7,3013.3 1903.3,3016.7 1845,3015 1845,2982.7 1811.7,2982.7 1810,3013.3 1796.7,3015 1790,3030 1778.3,3025 1771.7,3043.3 1765,3043.3 1765,3026.7 1771.7,3025 1772.7,2980 1765,2978.3 1765,2970 1786,2965 1786.7,2955 1801.7,2953.3"/>
<polygon fill="#FF8080" points="2036.7,2808.3 2050,2803.3 2070,2798.3 2071.7,2806.7 2080,2810 2091.7,2808.3 2093.3,2823.3 2125,2823.3 2125,2856.7 2108.3,2858.3 2108.3,2873.3 2091.7,2875 2091.7,2890 2076.7,2891.7 2076.7,2906.7 2060,2908.3 2060,2923.3 2028.3,2923.3 2026.7,2856.7 2011.7,2855 2011.7,2825 2053.3,2823.3"/>
<polygon fill="#FF8080" points="2076.7,2780 2125,2780 2125,2800 2100,2791.7 2080,2795"/>
<polygon fill="#FF8080" points="1962.5,2626.2 1975,2632.5 1990,2635 2007.5,2633.8 2007.5,2627.5 2027.5,2627.5 2027.5,2657.5 2032.5,2665 2040,2661.2 2042.5,2668.8 2070,2668.8 2071.2,2675 2076.2,2676.2 2076.2,2691.2 2121.2,2695 2121.2,2697.5 2120,2717.5 2110,2720 2112.5,2732.5 2092.5,2750 2100,2752.5 2146.2,2756.2 2125,2760 2125,2780 2125,2800 2100,2791.7 2080,2795 2076.7,2780 2065,2772.5 2045,2760 2025,2747.5 2007.5,2740 1997.5,2736.2 1990,2742.5 1982.5,2735 1980,2725 1977.5,2712.5 1982.5,2685 1975,2672.5 1965,2660 1957.5,2647.5 1957.5,2635"/>
<polygon fill="#FF8080" points="1928.8,2382.5 1940,2377.5 1950,2367.5 1965,2368.8 1970,2375 1975,2382.5 1982.5,2402.5 2007.5,2398.8 2026.2,2397.5 2025,2415 2020,2423.8 1976.2,2435 1972.5,2445 1967.5,2453.8 1961.2,2452.5 1962.5,2442.5 1940,2432.5 1942.5,2422.5 1935,2410 1930,2400"/>
<polygon fill="#FF8080" points="2045,2415 2062.5,2405 2075,2398.8 2090,2415 2096.2,2425 2090,2437.5 2085,2450 2080,2460 2077.5,2460 2080,2432.5 2082.5,2421.2 2060,2412.5"/>
<polygon fill="#FF0000" points="1833.3,2345 1865,2338.3 1868.3,2330 1900,2329.3 1906.7,2350 1908.3,2376.7 1873.3,2380 1858.3,2381.7 1851.7,2393.3 1843.3,2385 1828.3,2391.7 1818.3,2371.7 1836.7,2365 1838.3,2353.3"/>
<polygon fill="#FF0000" points="2290,2278.3 2305,2261.7 2305,2248.3 2341.7,2247.3 2341.7,2232.7 2360,2232.7 2360.7,2265 2367.3,2266.7 2367.3,2280 2376.7,2280 2376.7,2273.3 2386.7,2271.7 2386.7,2246.7 2370,2245 2370,2232.7 2466.7,2232.7 2465,2263.3 2450,2265 2448.3,2278.3 2433.3,2280 2432.7,2351.7 2418.3,2351.7 2416.7,2371.7 2408.3,2372.7 2406.7,2378.3 2385,2379.3 2383.3,2397.3 2304,2396.7 2304,2353.3 2310,2343.3 2300,2340 2293.3,2331.7 2290,2316.7"/>
<polygon fill="#FF0000" points="2466.7,2353.3 2486.7,2338.3 2493.3,2326.7 2505,2316.7 2501.7,2306.7 2503.3,2296.7 2515,2296.7 2515,2280 2533.3,2278.3 2533.3,2263.3 2541.7,2263.3 2541.7,2280 2548.3,2280.7 2548.3,2296.7 2541.7,2305 2550,2320 2551.7,2335 2543.3,2346.7 2531.7,2346.7 2531.7,2363.3 2545,2365 2545,2383.3 2536.7,2413.3 2535,2431.7 2523.3,2433.3 2515,2420 2500,2438.3 2483.3,2430 2470,2423.3 2466.7,2413.3 2455,2408.3 2466.7,2403.3 2473.3,2390 2468.3,2380 2473.3,2370"/>
<polygon fill="#FF0000" points="2121.7,2265 2153.3,2265 2155,2296.7 2170,2298.3 2170.7,2311.7 2143.3,2311.7 2140,2305 2133.3,2313.3 2123.3,2310 2116.7,2301.7 2110,2291.7 2110,2285 2121.7,2283.3"/>
<polygon fill="#FF0000" points="2188.3,2575 2231.7,2583.3 2228.3,2596.7 2200,2595 2196.7,2586.7 2188.3,2585"/>
<polygon fill="#FF0000" points="2340,2633.3 2360,2616.7 2376.7,2600 2386.7,2580 2400,2570 2415,2566.7 2416.7,2606.7 2411.7,2613.3 2400,2626.7 2383.3,2631.7 2380,2620 2363.3,2616.7 2346.7,2631.7 2340,2641.7 2330,2650"/>
<polygon fill="#FF0000" points="2123.3,2266.7 2153.3,2266.7 2154,2296.7 2168.3,2297.3 2168.3,2310 2143.3,2310 2140,2303.3 2135,2310 2126.7,2308.3 2116.7,2300 2106.7,2290 2110,2281.7 2121.7,2278.3"/>
<polygon fill="#FF0000" points="1336.7,3078.3 1323.3,3083.3 1313.3,3091.7 1310,3100 1296.7,3113.3 1283.3,3123.3 1278.3,3136.7 1271.7,3145 1276.7,3150 1283.3,3156.7 1286.7,3168.3 1293.3,3178.3 1300,3196.7 1303.3,3210 1305,3220 1316.7,3221.7 1326.7,3230 1336.7,3226.7 1350,3216.7 1363.3,3218.3 1371.7,3228.3 1383.3,3230 1396.7,3228.3 1408.3,3238.3 1416.7,3250 1426.7,3253.3 1440,3258.3 1453.3,3260 1458.3,3246.7 1475,3243.3 1478.3,3235 1478.3,3208.3 1495,3205 1496.7,3180 1511.7,3180 1496.7,3178.3 1496.7,3145 1485,3143.3 1483.3,3126.7 1478.3,3121.7 1461.7,3121.7 1460,3130 1451.7,3130 1440,3120 1430,3110 1416.7,3096.7 1398.3,3078.3"/>
<polygon fill="#FF0000" points="1630.6,2604.4 1641.7,2603 1669.6,2601.6 1672.4,2603.7 1689.1,2603.7 1691.8,2607.8 1696,2607.1 1705.8,2607.8 1716.9,2610.6 1716.9,2616.2 1725.2,2620.4 1739.1,2625.9 1747.5,2631.5 1754.5,2637 1747.5,2641.2 1744.7,2648.2 1737.8,2646.8 1725.2,2646.1 1715.5,2644.7 1696,2644 1696,2673.2 1683.5,2672.5 1680.7,2666.3 1678.6,2656.5 1662.6,2653.7 1661.2,2645.4 1648.7,2644.7 1647.3,2657.9 1644.5,2660.7 1632.7,2660.7 1630.6,2635.7"/>
<polygon fill="#FF0000" points="2061.2,2497.5 2066.2,2497.5 2063.8,2525 2062.5,2540 2052.5,2550 2043.8,2553.8 2038.8,2550 2050,2541.2 2060,2531.2 2060,2522.5"/>
<polygon fill="#FF0000" points="1976.2,2605 1987.5,2595 2000,2582.5 2012.5,2573.8 2025,2567.5 2030,2571.2 2045,2570 2065,2567.5 2066.2,2570 2045,2572.5 2032.5,2572.5 2020,2575 2010,2580 2000,2587.5 1990,2597.5 1980,2607.5"/>
<polygon fill="#FF0000" points="2081.2,2512.5 2087.5,2505 2105,2500 2107.5,2505 2100,2515 2102.5,2525 2112.5,2532.5 2125,2547.5 2140,2560 2150,2570 2162.5,2582.5 2172.5,2593.8 2185,2602.5 2200,2610 2215,2613.8 2225,2616.2 2240,2615 2250,2620 2265,2625 2289,2630 2306.7,2640 2326.7,2641.7 2340,2633.3 2340,2641.7 2330,2650 2316.7,2648.3 2300,2643.3 2275,2645 2265,2650 2247.5,2651.2 2246.2,2660 2210,2658.8 2208.8,2647.5 2205,2635 2180,2632.5 2177.5,2621.2 2160,2617.5 2157.5,2607.5 2145,2600 2143.8,2605 2130,2602.5 2127.5,2590 2132.5,2585 2122.5,2577.5 2110,2575 2100,2572.5 2107.5,2565 2110,2557.5 2120,2557.5 2117.5,2550 2110,2547.5 2100,2535 2092.5,2525"/>
<polygon fill="#FF0000" points="2188.8,2576.2 2200,2576.2 2231.2,2583.8 2228.8,2596.2 2207.5,2596.2 2197.5,2596.2 2197.5,2585 2187.5,2581.2"/>
<polygon fill="#FF0000" points="2092.5,2750 2112.5,2732.5 2110,2720 2120,2717.5 2121.2,2697.5 2140,2696.2 2160,2697.5 2175,2691.2 2237.5,2708.8 2222.5,2753.8 2167.5,2757.5 2167.5,2752.5 2147.5,2753 2146.2,2756.2 2100,2752.5"/>
<polygon fill="#0070FF" points="1346.7,2433.3 1356.7,2431.7 1358.3,2425 1370,2423.3 1378.3,2418.3 1388.3,2415 1401.7,2416.7 1402.7,2421.7 1435,2422.7 1435,2436.7 1416.7,2437.3 1415,2440 1400,2440 1398.3,2433.3 1385,2433.3 1378.3,2435 1376.7,2445 1385,2446.7 1385,2455 1375,2456 1371.7,2463.3 1363.3,2463.3 1351.7,2460 1351.7,2436.7"/>
<polygon fill="#0070FF" points="1705.8,2705.2 1715.5,2708 1725.2,2705.9 1729.4,2708 1744.7,2710.1 1757.2,2711.5 1757.9,2717.8 1755.1,2730.3 1753.1,2734.5 1746.1,2731.7 1741.9,2732.4 1740.5,2735.8 1733.6,2735.8 1725.2,2731.7 1719.7,2724.7 1712.7,2716.4"/>
<polygon fill="#FFBFBF" points="2376.7,2280 2386.7,2271.7 2408.3,2271.7 2410,2276.7 2393.3,2283.3 2386.7,2285"/>
<polygon fill="#FFBFBF" points="2256.7,2413.3 2283.3,2413.3 2283.3,2420 2271.7,2420 2271.7,2428.3 2263.3,2428.3 2263.3,2420 2256.7,2420"/>
<polygon fill="#FFBFBF" points="2373.3,2440 2393.3,2428.3 2418.3,2427.3 2400,2435 2376.7,2446.7"/>
<polygon fill="#FFBFBF" points="2573.3,2345 2593.3,2345 2593.3,2361.7 2573.3,2361.7"/>
<polygon fill="#FFBFBF" points="1398.3,3143.3 1406.7,3130 1416.7,3126.7 1420,3131.7 1411.7,3143.3 1403.3,3156.7 1398.3,3156.7"/>
<polygon fill="#FFBFBF" points="1423.3,3123.3 1435,3118.3 1436.7,3126.7 1428.3,3130"/>
<polygon fill="#FFBFBF" points="1600,2662.1 1632,2661.4 1632.7,2691.3 1634.8,2694.1 1658.4,2694.8 1672.4,2696.9 1682.1,2699 1682.8,2715.7 1679.3,2717.8 1658.4,2714.3 1656.4,2711.5 1657,2724.7 1660.5,2730.3 1655.7,2727.5 1645.9,2724.7 1644.5,2727.5 1648,2740 1648.7,2756.7 1641.7,2758.1 1640.4,2744.2 1636.2,2742.8 1620.9,2742.1 1612.5,2744.2 1611.8,2763.7 1604.2,2765.1 1603.5,2748.4 1595.8,2747 1595.8,2662.1"/>
<polygon fill="#FF0000" points="1662.5,2087 1665,2090 1665.5,2108.8 1672.5,2108.8 1673,2100.8 1706.2,2101.2 1715,2110 1725,2115 1725,2125 1730,2132.5 1738.8,2136.2 1738.8,2142.5 1733.8,2150 1742.5,2153.8 1750,2162.5 1748.8,2167.5 1755,2173.8 1765,2178.8 1760,2187.5 1751.2,2190 1746.2,2197.5 1746.2,2210 1741.2,2215 1746.2,2221.2 1753.8,2225 1747.5,2227.5 1735,2230.5 1711.2,2231.2 1702.5,2222.5 1693.8,2215 1692.5,2208.8 1682.5,2202.5 1681.2,2197.5 1672.5,2186.2 1672.5,2178.8 1677.5,2176.2 1676.2,2170 1667.5,2171.2 1663.8,2160 1655.5,2152.5 1650,2147.5 1647.5,2143.8 1652.5,2135 1652.5,2125 1653.8,2110 1658.8,2095"/>
<polyline fill="none" points="1227.5,1992.5 1270,1948.5 1302.5,1975 1295,1982.5 1265,2005 1250,2019 1227.5,1992.5"/>
<polygon fill="#FFBFBF" points="1400,2312.5 1430,2314 1437.5,2325 1425,2340 1412.5,2330 1400,2320"/>
<polyline fill="none" points="1633.8,2033.8 1633.8,2067.5 1622.5,2067.5 1622,2080 1615.5,2085 1615,2105 1612.5,2112.5 1613,2135 1617.5,2138.8 1623.8,2140 1630,2148.8 1636.2,2151.2 1640,2157.5 1640,2165 1646.2,2167.5 1652.5,2170 1660,2172.5 1667.5,2171.2"/>
<polyline fill="none" points="1533.8,2136.2 1556.2,2168.8 1556.2,2210 1550,2216.2 1541.2,2212.5 1537.5,2221.2 1530,2230 1522.5,2237.5 1525,2241.2 1518.8,2247.5 1523.8,2250 1503.8,2272.5"/>
<polyline fill="none" points="1725,2231.2 1722.5,2240 1725,2252.5 1730,2265 1735,2280 1738.8,2301.2"/>
<polyline fill="none" points="1760,2225 1770,2227 1812.5,2226.2 1822.5,2232.5 1836.2,2237.5 1837.5,2241.2 1850,2241.2 1861.2,2240 1861.2,2253.8 1872.5,2253.8 1875,2260 1895,2260 1898.8,2255 1902.5,2250 1902.5,2237.5 1911.2,2235"/>
<polyline fill="none" points="1712.5,2101.2 1712.5,2069.5 1731.2,2069.5 1731.2,2130"/>
<polyline fill="none" points="1746.2,2150 1773.8,2150 1772.5,2157.5 1767.5,2160 1768.8,2167.5 1775,2177.5 1780,2182.5 1780,2188.8 1771.2,2185 1770,2192.5 1765,2202.5 1760,2210 1760,2225"/>
<polyline fill="none" points="1911.2,2235 1900,2235 1892.5,2225 1892.5,2192.5 1882.5,2192.5 1880,2202.5 1887.5,2212.5 1895,2230 1900,2245 1910,2253.8 1921.2,2263.8 1925,2252.5 1930,2245 1939,2242.5"/>
<polyline fill="none" points="1393.3,2795 1403.3,2790 1423.3,2786.7 1431.7,2791.7 1443.3,2792.7 1448.3,2801.7 1463.3,2803.3"/>
<polyline fill="none" points="1483.3,2823.3 1466.7,2825 1466.7,2833.3 1450,2833.3 1450,2838.3 1466.7,2840 1466.7,2856.7 1460,2863.3 1450,2866.7 1446.7,2874.7"/>
<polyline fill="none" points="1435,2874.7 1433.3,2856.7 1410,2857.3 1409.3,2863.3 1398.3,2863.3 1398.3,2850"/>
<polyline fill="none" points="1466.7,2825 1530,2825 1530,2874.7"/>
<polyline fill="none" points="1766.7,2358.3 1796.7,2356.7 1803.3,2353.3 1818.3,2371.7"/>
<polyline fill="none" points="1908.3,2350 1916.7,2340 1920,2320 1933.3,2313.3 1940,2300"/>
<polyline fill="none" points="1950,2300 1950,2340 1955,2356.7"/>
<polyline fill="none" points="1908.3,2376.7 1926.7,2381.7 1930,2381.7"/>
<polyline fill="none" points="2186.7,2413.3 2206.7,2410 2220,2400 2243.3,2398.3"/>
<polyline fill="none" points="2185,2440 2200,2443.3 2220,2440 2226.7,2436.7"/>
<polyline fill="none" points="1903.3,2746.7 1895,2763.3 1906.7,2783.3 1913.3,2790"/>
<polyline fill="none" points="1875,2840 1813.3,2841.7 1811.7,2874.7"/>
<polyline fill="none" points="2286.7,2280.7 2253.3,2281.7 2254,2296.7 2273.3,2298.3 2275,2316.7 2268.3,2323.3 2281.7,2326.7 2290,2316.7"/>
<polyline fill="none" points="2200,2320 2211.7,2321.7 2211.7,2361.7 2196.7,2363.3 2196.7,2378.3 2230,2380 2233.3,2396.7 2243.3,2398.3"/>
<polyline fill="none" points="2271.7,2366.7 2271.7,2390 2300,2395"/>
<polyline fill="none" points="2286.7,2350 2300,2351.7 2300,2395"/>
<polyline fill="none" points="2188.3,2413.3 2166.7,2415 2166.7,2426.7 2178.3,2431.7 2183.3,2443.3 2200,2440 2218.3,2435 2226.7,2433.3"/>
<polyline fill="none" points="2220,2383.3 2220,2413.3 2201.7,2416.7 2203.3,2433.3 2218.3,2435"/>
<polyline fill="none" points="2145,2493.3 2153.3,2506.7 2163.3,2526.7 2173.3,2520 2183.3,2516.7 2206.7,2525 2220,2518.3 2226.7,2523.3 2243.3,2523.3 2236.7,2533.3 2220,2536.7 2220,2560 2236.7,2561.7 2243.3,2580 2250,2605 2290,2605 2293.3,2596.7"/>
<polyline fill="none" points="2333.3,2520 2323.3,2510 2316.7,2500 2326.7,2483.3 2340,2486.7 2346.7,2473.3 2333.3,2456.7"/>
<polyline fill="none" points="2353.3,2503.3 2366.7,2498.3 2383.3,2505 2400,2496.7 2410,2493.3"/>
<polyline fill="none" points="2386.7,2513.3 2410,2496.7 2440,2496.7 2443.3,2501.7 2430,2506.7 2420,2520 2413.3,2533.3 2405,2553.3"/>
<polyline fill="none" points="2408.3,2565 2420,2560 2436.7,2566.7"/>
<polyline fill="none" points="2300,2643.3 2313.3,2616.7 2316.7,2600"/>
<polyline fill="none" points="2300,2606.7 2300,2626.7 2286.7,2633.3"/>
<polyline fill="none" points="1954,2283.3 2006.7,2282.7 2006.7,2258.3 2023.3,2258.3 2024,2233.3"/>
<polyline fill="none" points="2153.3,2199.3 2220.7,2199.3 2222.7,2262.7 2188.3,2262.7"/>
<polyline fill="none" points="2188.3,2262.7 2286.7,2264 2288.3,2280"/>
<polyline fill="none" points="1905,2236.7 1923.3,2260 1931.7,2246.7 1936.7,2236.7 1950,2233.3 1956.7,2232.7"/>
<polyline fill="none" points="1953.3,2300 1943.3,2300 1931.7,2306.7 1920,2308.3 1923.3,2326.7 1913.3,2333.3 1910,2353.3 1906.7,2376.7"/>
<polyline fill="none" points="1873.3,2326.7 1873.3,2316.7 1901.7,2316.7 1903.3,2330"/>
<polyline fill="none" points="2188.3,2262.7 2189.3,2283.3 2211.7,2296.7 2196.7,2316.7 2183.3,2326.7 2156.7,2330 2155,2336.7 2133.3,2338.3 2131.7,2350 2110,2351.7 2100,2360 2083.3,2351.7"/>
<polyline fill="none" points="1750,2360 1800,2353.3 1810,2366.7 1820,2386.7"/>
<polyline fill="none" points="1290,2855 1369.3,2855"/>
<polyline fill="none" points="1313.3,2913.3 1335,2913.3 1336.7,2923.3 1363.3,2923.3 1366.7,2900 1368.3,2876.7"/>
<polyline fill="none" points="1336.7,2923.3 1346.7,2926.7 1353.3,2943.3 1351.7,2960 1333.3,2966.7 1326.7,2966.7"/>
<polyline fill="none" points="1413.3,2956.7 1370,2956.7 1368.3,2980 1373.3,2993.3 1378.3,3023.3 1373.3,3028.3 1372.7,3050 1358.3,3043.3 1346.7,3053.3 1342.7,3040"/>
<polyline fill="none" points="1413.3,2956.7 1415,2953.3 1403.3,2940 1413.3,2938.3 1416.7,2926.7"/>
<polyline fill="none" points="1461.7,3121.7 1461.7,3071.7 1498.3,3070"/>
<polyline fill="none" points="1286.7,3168.3 1320,3168.3 1320.7,3130 1350,3128.3 1356.7,3103.3 1376.7,3100 1390,3100 1416.7,3098.3"/>
<polyline fill="none" points="1390,3100 1380,3116.7 1376.7,3133.3 1366.7,3143.3 1358.3,3146.7 1361.7,3160 1350,3163.3 1340,3173.3 1346.7,3183.3 1363.3,3178.3 1366.7,3160 1376.7,3150 1390,3156.7 1398.3,3156.7"/>
<polyline fill="none" points="1390,3156.7 1393.3,3173.3 1410,3185 1413.3,3196.7 1405,3206.7 1410,3213.3 1416.7,3210 1430,3216.7 1443.3,3213.3 1446.7,3203.3 1456.7,3195 1458.3,3180 1446.7,3171.7 1448.3,3161.7 1460,3161.7 1478.3,3166.7 1480,3145 1496.7,3145"/>
<polyline fill="none" points="1420,3131.7 1440,3146.7 1448.3,3161.7"/>
<polyline fill="none" points="1380,3116.7 1396.7,3120 1406.7,3130"/>
<polyline fill="none" points="1468.3,2896.7 1470,2828.3 1530,2828.3 1530,2936.7 1498.3,2938.3"/>
<polyline fill="none" points="1533.3,2780 1533.3,2938.3 1530,2936.7"/>
<polyline fill="none" points="1516.7,3091.7 1516.7,2956.7 1520.7,2956.7 1520.7,2983.3"/>
<polyline fill="none" points="1530,2980 1530,2961.7 1536.7,2960 1536.7,2953.3 1545,2953.3"/>
<polyline fill="none" points="1590,2833.3 1600,2833.3 1606.7,2825 1631.7,2821.7 1636.7,2830 1640,2845 1658.3,2838.3 1666.7,2830 1690,2835 1703.3,2841.7 1710,2860 1705,2883.3 1696.7,2890 1686.7,2903.3 1686.7,2923.3 1676.7,2923.3 1671.7,2931.7 1655,2935 1648.3,2946.7 1638.3,2933.3"/>
<polyline fill="none" points="1650,2780 1648.3,2795"/>
<polyline fill="none" points="1703.3,2841.7 1716.7,2846.7 1736.7,2840"/>
<polyline fill="none" points="1716.7,2846.7 1730,2860"/>
<polyline fill="none" points="1696.7,2890 1696.7,2900 1725,2901.7 1730,2891.7"/>
<polyline fill="none" points="1686.7,2903.3 1746.7,2901.7"/>
<polyline fill="none" points="1801.7,2901.7 1800,2933.3 1801.7,2935"/>
<polyline fill="none" points="1731.7,3046.7 1756.7,3046.7 1750,3055 1741.7,3056.7 1741.7,3070 1750,3063.3 1770,3063.3 1781.7,3075 1796.7,3076.7 1796.7,3096.7 1781.7,3095 1791.7,3105 1798.3,3111.7 1766.7,3110 1746.7,3091.7 1733.3,3078.3 1731.7,3046.7"/>
<polyline fill="none" points="1653.3,3020 1650,3033.3 1653.3,3056.7 1658.3,3073.3 1655,3093.3 1646.7,3106.7"/>
<polyline fill="none" points="1765,3026.7 1765,3043.3"/>
<polyline fill="none" points="1811.7,2856.7 1813.3,2841.7 1873.3,2841.7"/>
<polyline fill="none" points="1801.7,2903.3 1796.7,2905 1796.7,2933.3 1805,2935"/>
<polyline fill="none" points="1878.3,2893.3 1878.3,2913.3 1876.7,2956.7 1886.7,2956.7"/>
<polyline fill="none" points="1866.7,2934 1875,2936.7 1876.7,2913.3"/>
<polyline fill="none" points="1901.7,2908.3 1910,2911.7 1910,2950 1916.7,2955 1916.7,2963.3 1926.7,2963.3 1926.7,2953.3 1946.7,2966.7 1950,2968.3 1948.3,2923.3 1933.3,2923.3 1930,2915 1940,2913.3 1941.7,2906.7"/>
<polyline fill="none" points="1975,2890 2006.7,2890 2026.7,2900"/>
<polyline fill="none" points="1975,2823.3 1976.7,2795 1990,2793.3 1993.3,2780"/>
<polyline fill="none" points="1975,2823.3 2011.7,2825"/>
<polyline fill="none" points="1858.3,3018.3 1878.3,3018.3 1878.3,3031.7 1858.3,3031.7 1858.3,3018.3"/>
<polyline fill="none" points="1960,2795 1961.7,2823.3"/>
<polyline fill="none" points="1693.3,2671.7 1696.7,2663.3 1720,2666.7 1723.3,2675 1740,2673.3 1760,2670"/>
<polyline fill="none" points="1693.3,2641.7 1696.7,2650 1720,2653.3 1733.3,2648.3 1746.7,2656.7"/>
<polyline fill="none" points="1700,2678.3 1720,2676.7 1746.7,2680 1763.3,2683.3"/>
<polyline fill="none" points="1693.3,2683.3 1700,2678.3 1696.7,2693.3 1705,2706.7"/>
<polyline fill="none" points="1756.7,2713.3 1760,2725 1760,2740 1783.3,2746.7"/>
<polyline fill="none" points="1766.7,2683.3 1793.3,2685 1800,2693.3 1826.7,2700"/>
<polyline fill="none" points="1750,2643.3 1760,2641.7 1776.7,2650 1793.3,2656.7 1776.7,2660 1773.3,2663.3 1760,2660 1760,2670"/>
<polyline fill="none" points="1836.7,2615 1840,2640 1843.3,2656.7 1830,2666.7 1848.3,2700"/>
<polyline fill="none" points="1848.3,2700 1903.3,2746.7"/>
<polyline fill="none" points="1648.3,2733.3 1670,2746.7 1673.3,2760 1680,2756.7 1686.7,2773.3"/>
<polyline fill="none" points="1750,2800 1760,2813.3 1776.7,2818.3"/>
<polyline fill="none" points="1733.3,2860 1760,2833.3 1763.3,2808.3"/>
<polyline fill="none" points="1903.3,2746.7 1895,2761.7 1906.7,2790 1880,2790 1875,2800 1871.7,2820 1873.3,2840 1813.3,2840 1810,2855"/>
<polyline fill="none" points="1873.3,2840 1875,2893.3 1876.7,2933.3 1865,2940 1863.3,2933.3 1805,2933.3"/>
<polyline fill="none" points="1903.3,2746.7 1913.3,2733.3 1915,2716.7 1926.7,2686.7 1936.7,2670 1953.3,2640"/>
<polyline fill="none" points="1915,2716.7 1946.7,2726.7 1950,2716.7 1960,2706.7 1976.7,2703.3 1983.3,2726.7 1990,2740"/>
<polyline fill="none" points="1906.7,2790 1923.3,2786.7 1943.3,2790 1943.3,2800 1958.3,2793.3 1960,2823.3 1973.3,2825 1975,2793.3 1993.3,2790"/>
<polyline fill="none" points="1973.3,2825 2053.3,2824.3"/>
<polyline fill="none" points="2093.3,2824.3 2123.3,2824.3"/>
<polyline fill="none" points="1990,2740 1986.7,2760 1993.3,2773.3 1993.3,2790"/>
<polyline fill="none" points="1973.3,2825 1983.3,2843.3 1980,2856.7 2000,2863.3 2000,2873.3"/>
<polyline fill="none" points="1688.3,2905 1693.3,2926.7 1703.3,2950 1693.3,2970 1693.3,2983.3 1640,2983.3 1640,2950 1650,2946.7"/>
<polyline fill="none" points="1693.3,2983.3 1680,3003.3 1673.3,3030 1660,3033.3"/>
<polyline fill="none" points="1560,2808.3 1603.3,2808.3 1605,2796.7 1650,2793.3"/>
<polyline fill="none" points="1560,2893.3 1590,2893.3"/>
<polyline fill="none" points="1860,2398.8 1866.2,2382.5 1880,2377.5 1907.5,2375 1910,2400 1915,2425 1917.5,2426.2"/>
<polyline fill="none" points="1928.8,2535 1925,2552.5"/>
<polyline fill="none" points="1995,2552.5 1990,2565 1982.5,2580"/>
<polyline fill="none" points="2040,2543.8 2037.5,2550"/>
<polyline fill="none" points="2066.2,2570 2072.5,2567.5 2082.5,2570 2100,2572.5"/>
<polyline fill="none" points="2072.5,2506.2 2081.2,2512.5"/>
<polyline fill="none" points="2140,2488.8 2147.5,2500 2155,2510 2162.5,2520 2175,2525 2185,2515 2190,2522.5 2207.5,2522.5 2212.5,2517.5 2220,2522.5 2245,2522.5 2240,2530 2225,2535 2220,2545 2220,2557.5 2235,2562.5 2237.5,2580 2231.2,2583.8"/>
<polyline fill="none" points="2175,2525 2175,2535 2185,2543.8"/>
<polyline fill="none" points="2230,2597.5 2247.5,2595 2250,2607.5 2289,2607.5"/>
<polyline fill="none" points="1913.8,2707.5 1925,2710 1945,2715 1950,2705 1957.5,2700 1977.5,2712.5"/>
<polyline fill="none" points="1903.8,2745 1897.5,2760 1902.5,2781"/>
<polyline fill="none" points="1915,2725 1925,2730 1935,2725 1947.5,2722.5 1950,2710"/>
<polyline fill="none" points="2026.2,2397.5 2027.5,2412.5 2040,2418.8"/>
<polyline fill="none" points="2047.5,2397.5 2045,2415"/>
<polyline fill="none" points="1942.5,2571.2 1962.5,2600 1962.5,2626.2"/>
<polyline fill="none" points="2000,2581.2 2012.5,2573.8"/>
</g>
<polygon fill="none" points="415,785 600,785 675,787.5 1120,787.5 1132.5,789 1280,789 1305,786 1482.5,786 1490,784 1865,784 1870,782 2000,782 2035,780 2035,781 2370,781 2400,779 2700,779 2700,1135 2703,1147.5 2703,1376 2714,1376 2714,1460 2717,1480 2717,1613 2718,1620 2725,1730 2734,1870 2740,1940 2744,1984 2732.5,2040 2720,2100 2710,2155 2697.5,2210 2682.5,2265 2662.5,2340 2645,2400 2620,2457.5 2607.5,2500 2592.5,2555 2589,2585 2577.5,2595 2550,2591 2519,2587.5 2519,2627.5 2486,2627.5 2470,2655 2450,2692.5 2450,2706 2467.5,2707.5 2468.5,2725 2471,2740 2490,2757.5 2325,2759 2126,2759 2126,2857.5 2109,2857.5 2109,2872.5 2092.5,2872.5 2092.5,2891 2076,2891 2076,2907.5 2060,2907.5 2060,2924 2027.5,2924 2027.5,2940 2010,2942.5 2010,2950 2002.5,2950 2002.5,2959 1994,2959 1994,2967.5 1986,2969 1986,2975 1977.5,2975 1977.5,2984 1967.5,2985 1970,3012.5 1961,3014 1961,3045 1950,3050 1935,3065 1921,3097.5 1900,3135 1895,3140 1907.5,3162.5 1907.5,3182.5 1860,3212.5 1857.5,3217.5 1855,3212.5 1840,3202.5 1825,3195 1810,3186.2 1795,3180 1780,3175 1762.5,3171.2 1750,3170 1737.5,3171.2 1730,3175 1722.5,3180 1715,3175 1700,3170 1696.2,3173.8 1700,3180 1710,3187.5 1720,3193.8 1727.5,3197.5 1726.2,3212.5 1731.2,3230 1731.2,3238.8 1711.2,3240 1710,3232.5 1700,3232.5 1692.5,3222.5 1685,3215 1675,3205 1673.8,3197.5 1682.5,3188.8 1690,3185 1690,3172.5 1673.8,3172.5 1673.8,3183.8 1667.5,3190 1657.5,3187.5 1647.5,3192.5 1635,3195 1625,3200 1615,3203 1622.5,3211.2 1633.8,3252.5 1610,3256.2 1615,3276.2 1593.8,3276.2 1586.2,3257.5 1587.5,3250 1615,3237.5 1621.2,3236.2 1612.5,3210 1610,3201.2 1602.5,3210 1603.8,3222.5 1612.5,3232.5 1583.8,3242.5 1576.2,3247.5 1580,3261.2 1565,3270 1563.8,3280 1545,3276.2 1543.8,3285 1556.2,3297.5 1542.5,3288.8 1535,3300 1522.5,3303.8 1522.5,3292.5 1512.5,3288.8 1500,3281.2 1482.5,3282.5 1467.5,3270 1450,3262.5 1440,3255 1420,3252.5 1410,3242.5 1395,3230 1382.5,3225 1370,3227.5 1355,3217.5 1340,3222.5 1330,3230 1317.5,3220 1305,3220 1300,3202.5 1295,3187.5 1290,3175 1282.5,3162.5 1285,3152.5 1274,3145 1280,3132.5 1300,3110 1312.5,3100 1320,3087.5 1330,3081 1340,3077.5 1341,3060 1342.5,3025 1345,2995 1337.5,2980 1327.5,2977.5 1325,2972.5 1320,2945 1315,2930 1290,2860 1275,2820 1255,2785 1242.5,2755 1220,2725 1212.5,2717.5 1207.5,2720 1215,2729 1217.5,2720 1212.5,2705 1197.5,2680 1175,2645 1140,2610 1110,2577.5 1090,2562.5 1065,2547.5 1050,2546.5 1035,2550 1020,2542.5 1012.5,2542.5 990,2545 982.5,2547.5 970,2545 940,2550 920,2552.5 890,2550 860,2547.5 835,2547.5 810,2550 802.5,2562.5 780,2562.5 755,2565 740,2562.5 715,2560 690,2559 670,2565 660,2574 635,2577.5 610,2582.5 595,2595 590,2612.5 572.5,2617.5 567.5,2629 560,2627.5 545,2610 525,2587.5 505,2567.5 485,2555 460,2552.5 440,2545 415,2542.5 395,2540 375,2537.5 355,2530 342.5,2527.5 325,2527.5 315,2530 305,2527.5 312.5,2459 380,2410 442.5,2365 472.5,2345 600,2251.5 675,2251.5 685,2253 827.5,2253 827.5,2091 895,2091 894,2025 891,1995 885,1970 865,1925 840,1855 800,1760 760,1655 717.5,1550 690,1475 620,1300 565,1170 485,965"/>
</svg>
<h1><span class="m">Measure</span> <span class="j">J</span> results in <span class="osf">2012</span></h1>
<h2>(counted so far)</h2>
<ul class="legend">
<li style="top:0"><span class="sw" style="background:#ff0000"></span><span class="lb">less than 50%</span></li>
<li style="top:118.5px"><span class="sw" style="background:#ff8080"></span><span class="lb">50% - 60%</span></li>
<li style="top:237px"><span class="sw" style="background:#ffbfbf"></span><span class="lb">60% - 66.6%</span></li>
<li style="top:355.5px"><span class="sw" style="background:#bfd0ff"></span><span class="lb">66.6% - 70%</span></li>
<li style="top:474px"><span class="sw" style="background:#73b2ff"></span><span class="lb">70% - 80%</span></li>
<li style="top:592.5px"><span class="sw" style="background:#0070ff"></span><span class="lb">80% or more</span></li>
</ul>
</body>
</html>
